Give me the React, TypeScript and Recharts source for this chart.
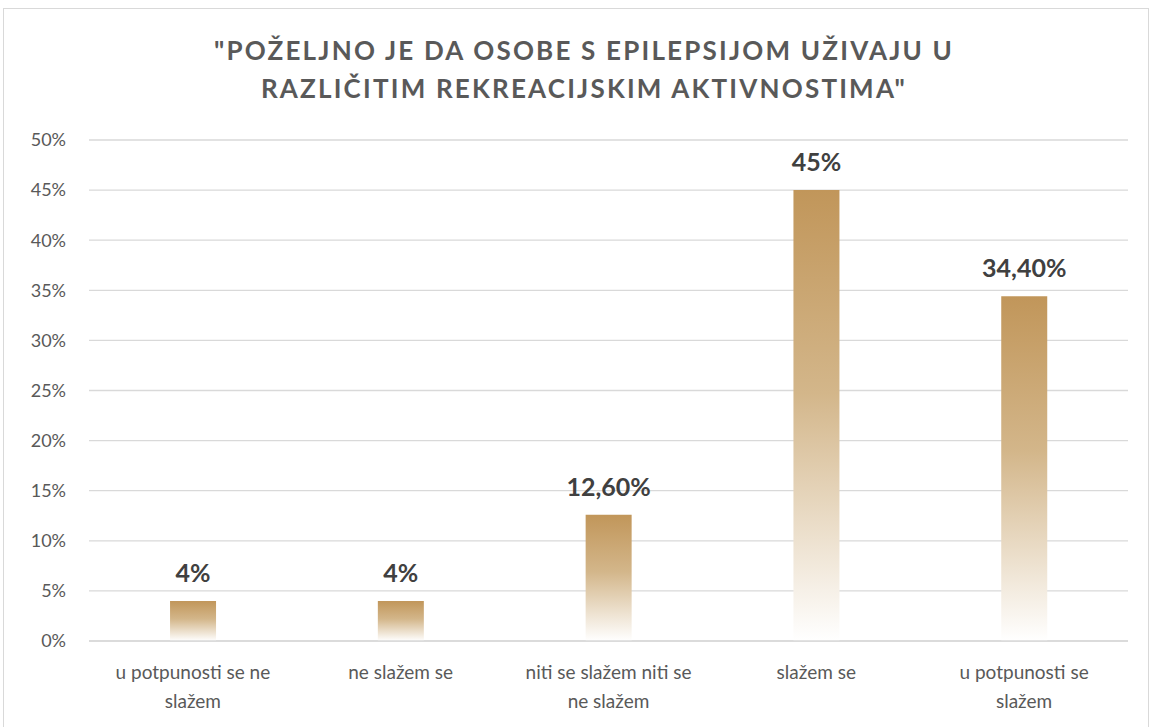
import React from "react";
import { BarChart, Bar, XAxis, YAxis, CartesianGrid, LabelList } from "recharts";

const categories = [
  "u potpunosti se ne\nslažem",
  "ne slažem se",
  "niti se slažem niti se\nne slažem",
  "slažem se",
  "u potpunosti se\nslažem",
];
const shares = [4, 4, 12.6, 45, 34.4];
const yTicks = [0, 5, 10, 15, 20, 25, 30, 35, 40, 45, 50];

const titleLines = [
  "\"POŽELJNO JE DA OSOBE S EPILEPSIJOM UŽIVAJU U",
  "RAZLIČITIM REKREACIJSKIM AKTIVNOSTIMA\"",
];

const data = categories.map((name, i) => ({ name, value: shares[i] }));

const FONT = "Lato, 'Open Sans', sans-serif";

const fmt = (v: any) => {
  const n = Number(v);
  return Number.isInteger(n) ? `${n}%` : `${n.toFixed(2).replace(".", ",")}%`;
};

function CategoryTick(props: any) {
  const { x, y, payload } = props;
  const lines = String(payload.value).split("\n");
  return (
    <text
      x={x}
      y={y}
      textAnchor="middle"
      fill="#595959"
      fontSize={19}
      fontFamily={FONT}
    >
      {lines.map((l, i) => (
        <tspan key={i} x={x} dy={i === 0 ? 38 : 29}>
          {l}
        </tspan>
      ))}
    </text>
  );
}

export default function App() {
  return (
    <div
      style={{
        position: "absolute",
        left: 0,
        top: 0,
        width: 1152,
        height: 727,
        background: "#fff",
        overflow: "hidden",
      }}
    >
      <div
        style={{
          position: "absolute",
          left: 3,
          top: 8,
          width: 1146,
          height: 730,
          border: "1px solid #d9d9d9",
          boxSizing: "border-box",
        }}
      />
      <div
        style={{
          position: "absolute",
          left: 0,
          top: 31,
          width: 1168,
          textAlign: "center",
          fontFamily: FONT,
          fontWeight: 700,
          fontSize: 26,
          letterSpacing: 2.2,
          lineHeight: "38px",
          color: "#595959",
        }}
      >
        {titleLines.map((t, i) => (
          <div key={i}>{t}</div>
        ))}
      </div>
      <div style={{ position: "absolute", left: 0, top: 0 }}>
        <BarChart
          width={1152}
          height={727}
          data={data}
          margin={{ top: 140, right: 24, bottom: 56, left: 0 }}
          barCategoryGap="39%"
        >
          <defs>
            <linearGradient id="barFade" x1="0" y1="0" x2="0" y2="1">
              <stop offset="0%" stopColor="#C1965A" />
              <stop offset="45%" stopColor="#D3B68A" />
              <stop offset="100%" stopColor="#FFFFFF" />
            </linearGradient>
          </defs>
          <CartesianGrid vertical={false} stroke="#d9d9d9" strokeWidth={1.3} />
          <XAxis
            dataKey="name"
            axisLine={{ stroke: "#d9d9d9", strokeWidth: 1.3 }}
            tickLine={false}
            tickSize={0}
            tickMargin={0}
            interval={0}
            tick={<CategoryTick />}
          />
          <YAxis
            width={89}
            domain={[0, 50]}
            ticks={yTicks}
            tickFormatter={(v) => `${v}%`}
            axisLine={false}
            tickLine={false}
            tickSize={0}
            tickMargin={23}
            tick={{ fill: "#595959", fontSize: 18, fontFamily: FONT }}
          />
          <Bar dataKey="value" fill="url(#barFade)" isAnimationActive={false}>
            <LabelList
              dataKey="value"
              position="top"
              offset={19}
              formatter={fmt}
              fill="#404040"
              fontSize={25}
              fontWeight={700}
              fontFamily={FONT}
            />
          </Bar>
        </BarChart>
      </div>
    </div>
  );
}
